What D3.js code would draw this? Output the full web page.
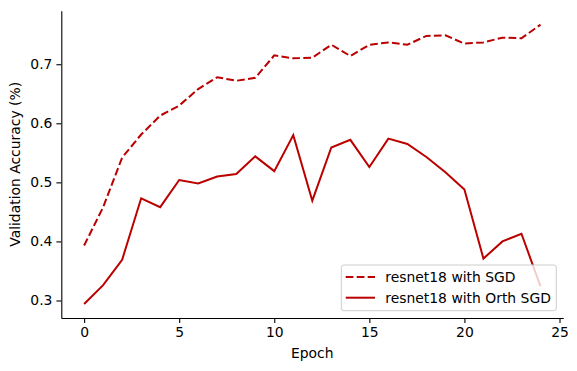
<!DOCTYPE html>
<html>
<head>
<meta charset="utf-8">
<script src="https://cdn.jsdelivr.net/npm/d3@7"></script>
<style>
  body { margin: 0; background: #fff; }
  text { font-family: "DejaVu Sans", sans-serif; fill: #000; }
</style>
</head>
<body>
<svg width="577" height="371"></svg>
<script>
// Data.

var epochs = d3.range(0, 25);
var sgd = [0.393, 0.458, 0.542, 0.581, 0.613, 0.630, 0.658, 0.678, 0.672, 0.677,
           0.715, 0.710, 0.711, 0.733, 0.714, 0.733, 0.737, 0.733, 0.748, 0.749,
           0.735, 0.737, 0.745, 0.744, 0.767];
var orthSgd = [0.294, 0.326, 0.369, 0.473, 0.458, 0.504, 0.498, 0.510, 0.514, 0.544,
               0.519, 0.580, 0.469, 0.559, 0.572, 0.526, 0.574, 0.565, 0.543, 0.517,
               0.488, 0.371, 0.400, 0.413, 0.324];
var xTicks = [0, 5, 10, 15, 20, 25];
var yTicks = [0.3, 0.4, 0.5, 0.6, 0.7];
var seriesNames = ['resnet18 with SGD', 'resnet18 with Orth SGD'];

var color = '#bb0000';
var fontSize = '13.9px';
var svg = d3.select('svg');
var margin = {top: 10.7, right: 13.7, bottom: 53, left: 61.3};
var width = 577 - margin.left - margin.right;
var height = 371 - margin.top - margin.bottom;
var g = svg.append('g').attr('transform', 'translate(' + margin.left + ',' + margin.top + ')');

// Scales with matplotlib-like 5% margins.

var x = d3.scaleLinear().domain([-1.2, 25.2]).range([0, width]);
var yMin = d3.min(orthSgd), yMax = d3.max(sgd), pad = (yMax - yMin) * 0.05;
var y = d3.scaleLinear().domain([yMin - pad, yMax + pad]).range([height, 0]);

// Lines.

var line = d3.line()
  .x(function(d, i) { return x(epochs[i]); })
  .y(function(d) { return y(d); });

g.append('path').datum(sgd)
  .attr('fill', 'none').attr('stroke', color).attr('stroke-width', 2)
  .attr('stroke-dasharray', '7.7,3.3')
  .attr('d', line);

g.append('path').datum(orthSgd)
  .attr('fill', 'none').attr('stroke', color).attr('stroke-width', 2)
  .attr('d', line);

// Axes: left and bottom spines only.

var xAxis = g.append('g')
  .attr('transform', 'translate(0,' + height + ')')
  .call(d3.axisBottom(x).tickValues(xTicks).tickSize(4.9).tickPadding(4.5).tickSizeOuter(0));
var yAxis = g.append('g')
  .call(d3.axisLeft(y).tickValues(yTicks).tickFormat(d3.format('.1f')).tickSize(4.9).tickPadding(4).tickSizeOuter(0));

[xAxis, yAxis].forEach(function(a) {
  a.select('.domain').attr('stroke', '#000').attr('stroke-width', 1.1);
  a.selectAll('.tick line').attr('stroke', '#000').attr('stroke-width', 1.1);
  a.selectAll('.tick text').attr('font-family', '"DejaVu Sans", sans-serif')
    .attr('font-size', fontSize).attr('fill', '#000');
});

// Axis labels.

svg.append('text')
  .attr('x', margin.left + width / 2).attr('y', 358.3)
  .attr('text-anchor', 'middle').attr('font-size', fontSize)
  .text('Epoch');

svg.append('text')
  .attr('transform', 'translate(20.3,' + (margin.top + height / 2) + ') rotate(-90)')
  .attr('text-anchor', 'middle').attr('font-size', fontSize)
  .text('Validation Accuracy (%)');

// Legend.

var legend = svg.append('g').attr('transform', 'translate(341.3,265)');
legend.append('rect')
  .attr('width', 215).attr('height', 45.7).attr('rx', 2.5)
  .attr('fill', '#fff').attr('fill-opacity', 0.8)
  .attr('stroke', '#cccccc').attr('stroke-width', 1);

var rows = legend.selectAll('g.row').data(seriesNames).enter().append('g')
  .attr('class', 'row')
  .attr('transform', function(d, i) { return 'translate(0,' + (12 + i * 20.7) + ')'; });

rows.append('line')
  .attr('x1', 4.4).attr('x2', 33.7).attr('y1', 0).attr('y2', 0)
  .attr('stroke', color).attr('stroke-width', 2)
  .attr('stroke-dasharray', function(d, i) { return i === 0 ? '7.7,3.3' : null; });

rows.append('text')
  .attr('x', 44).attr('y', 5).attr('font-size', fontSize)
  .text(function(d) { return d; });
</script>
</body>
</html>
